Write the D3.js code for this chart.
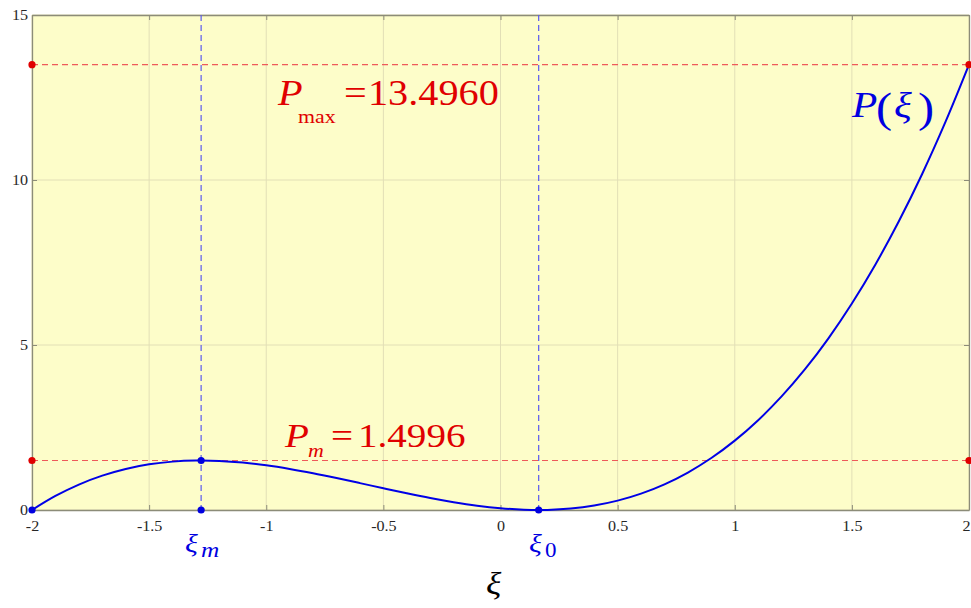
<!DOCTYPE html>
<html>
<head>
<meta charset="utf-8">
<script src="https://cdn.jsdelivr.net/npm/d3@7"></script>
<style>
  body { margin: 0; background: #fff; }
  svg text { font-family: "Liberation Serif", "Times New Roman", serif; }
</style>
</head>
<body>
<div class="chart"></div>
<script>
// curve samples
const xi = [-2, -1.9, -1.8, -1.7, -1.6, -1.5, -1.4, -1.3, -1.2, -1.1, -1.0,
  -0.9, -0.8, -0.7, -0.6, -0.5, -0.4, -0.3, -0.2, -0.1, 0,
  0.1, 0.2, 0.3, 0.4, 0.5, 0.6, 0.7, 0.8, 0.9, 1.0,
  1.1, 1.2, 1.3, 1.4, 1.5, 1.6, 1.7, 1.8, 1.9, 2.0];
const P = [0, 0.426, 0.771, 1.041, 1.243, 1.383, 1.466, 1.498, 1.486, 1.436, 1.353,
  1.243, 1.113, 0.968, 0.815, 0.659, 0.507, 0.364, 0.237, 0.131, 0.053,
  0.008, 0.003, 0.043, 0.135, 0.284, 0.497, 0.779, 1.136, 1.575, 2.102,
  2.722, 3.441, 4.266, 5.203, 6.257, 7.434, 8.741, 10.183, 11.767, 13.496];

const xTicks = [-2, -1.5, -1, -0.5, 0, 0.5, 1, 1.5, 2];
const yTicks = [0, 5, 10, 15];

const xiM = -1.278, xi0 = 0.163;
const Pm = 1.4996, Pmax = 13.4960;

const width = 971, height = 608;
const margin = {top: 15, right: 2, bottom: 98, left: 32};
const w = width - margin.left - margin.right;
const h = height - margin.top - margin.bottom;

const svg = d3.select(".chart").append("svg")
  .attr("width", width).attr("height", height);

const g = svg.append("g").attr("transform", `translate(${margin.left},${margin.top})`);

const x = d3.scaleLinear().domain([-2, 2]).range([0, w]);
const y = d3.scaleLinear().domain([0, 15]).range([h, 0]);

g.append("rect").attr("width", w).attr("height", h).attr("fill", "#fdfdc9");

// grid
g.selectAll(".gx").data(xTicks).enter().append("line")
  .attr("x1", d => x(d)).attr("x2", d => x(d)).attr("y1", 0).attr("y2", h)
  .attr("stroke", "#e2dfb6").attr("stroke-width", 1);
g.selectAll(".gy").data(yTicks).enter().append("line")
  .attr("x1", 0).attr("x2", w).attr("y1", d => y(d)).attr("y2", d => y(d))
  .attr("stroke", "#e2dfb6").attr("stroke-width", 1);

// axes, ticks inward, box all round
const sx = 1.15; // text in the picture is stretched sideways
const axColor = "#8c8c78";
const xAxis = g.append("g").attr("transform", `translate(0,${h})`)
  .call(d3.axisBottom(x).tickValues(xTicks).tickSizeInner(-5).tickSizeOuter(0).tickFormat(d3.format("")));
const xAxisTop = g.append("g")
  .call(d3.axisTop(x).tickValues(xTicks).tickSizeInner(-5).tickSizeOuter(0).tickFormat(""));
const yAxis = g.append("g")
  .call(d3.axisLeft(y).tickValues(yTicks).tickSizeInner(-5).tickSizeOuter(0));
const yAxisRight = g.append("g").attr("transform", `translate(${w},0)`)
  .call(d3.axisRight(y).tickValues(yTicks).tickSizeInner(-5).tickSizeOuter(0).tickFormat(""));

[xAxis, xAxisTop, yAxis, yAxisRight].forEach(a => {
  a.select(".domain").attr("stroke", axColor).attr("stroke-width", 1.3);
  a.selectAll(".tick line").attr("stroke", axColor);
  a.selectAll("text").attr("font-size", 14).attr("fill", "#262626")
    .style("font-family", "'Liberation Serif', serif");
});
xAxis.selectAll("text").attr("dy", null).attr("y", 0)
  .attr("transform", `translate(0,21) scale(${sx},1)`)
  .text(d => d3.format("")(d).replace("−", "-"));
// the last label sits against the right edge, as in the picture
xAxis.selectAll(".tick").filter(d => d === 2).select("text").attr("text-anchor", "end")
  .attr("transform", `translate(1,21) scale(${sx},1)`);
yAxis.selectAll("text").attr("x", 0).attr("dy", "0.32em")
  .attr("transform", `translate(-4,0) scale(${sx},1)`);

// reference lines
const redDash = "#ee5a5a", blueDash = "#5a5af0";
[Pmax, Pm].forEach(v => {
  g.append("line").attr("x1", 0).attr("x2", w).attr("y1", y(v)).attr("y2", y(v))
    .attr("stroke", redDash).attr("stroke-width", 1.2).attr("stroke-dasharray", "6,4");
});
[xiM, xi0].forEach(v => {
  g.append("line").attr("x1", x(v)).attr("x2", x(v)).attr("y1", 0).attr("y2", h)
    .attr("stroke", blueDash).attr("stroke-width", 1.2).attr("stroke-dasharray", "6,4");
});

// curve
const line = d3.line().x((d, i) => x(xi[i])).y(d => y(d)).curve(d3.curveCatmullRom);
g.append("path").datum(P).attr("d", line)
  .attr("fill", "none").attr("stroke", "#0000e6").attr("stroke-width", 2);

// markers
const redPts = [[-2, Pmax], [2, Pmax], [-2, Pm], [2, Pm]];
const bluePts = [[-2, 0], [xiM, Pm], [xiM, 0], [xi0, 0]];
g.selectAll(".rp").data(redPts).enter().append("circle")
  .attr("cx", d => x(d[0])).attr("cy", d => y(d[1])).attr("r", 3.6).attr("fill", "#e00000");
g.selectAll(".bp").data(bluePts).enter().append("circle")
  .attr("cx", d => x(d[0])).attr("cy", d => y(d[1])).attr("r", 3.6).attr("fill", "#0000e0");

// labels
function label(txt, px, py, size, color, italic) {
  svg.append("text")
    .attr("transform", `translate(${px},${py}) scale(${sx},1)`)
    .attr("font-size", size).attr("fill", color)
    .attr("font-style", italic ? "italic" : "normal")
    .text(txt);
}
const red = "#e00000", blue = "#0000e0";
label("P", 278, 105, 35, red, true);
label("max", 298, 123, 19, red, false);
label("=", 344, 105, 35, red, false);
label("13.4960", 368, 105, 35, red, false);

label("P", 285, 447, 34, red, true);
label("m", 308, 457, 19, red, true);
label("=", 331, 447, 34, red, false);
label("1.4996", 358, 447, 34, red, false);

label("P", 852, 117, 36, blue, true);
label("(", 876, 122, 42, blue, false);
label("ξ", 894, 117, 36, blue, true);
label(")", 918, 122, 42, blue, false);

label("ξ", 185, 552, 26, blue, true);
label("m", 201, 557, 22, blue, true);
label("ξ", 529, 552, 26, blue, true);
label("0", 545, 557, 20, blue, false);

label("ξ", 486, 594, 31, "#000", true);
</script>
</body>
</html>
